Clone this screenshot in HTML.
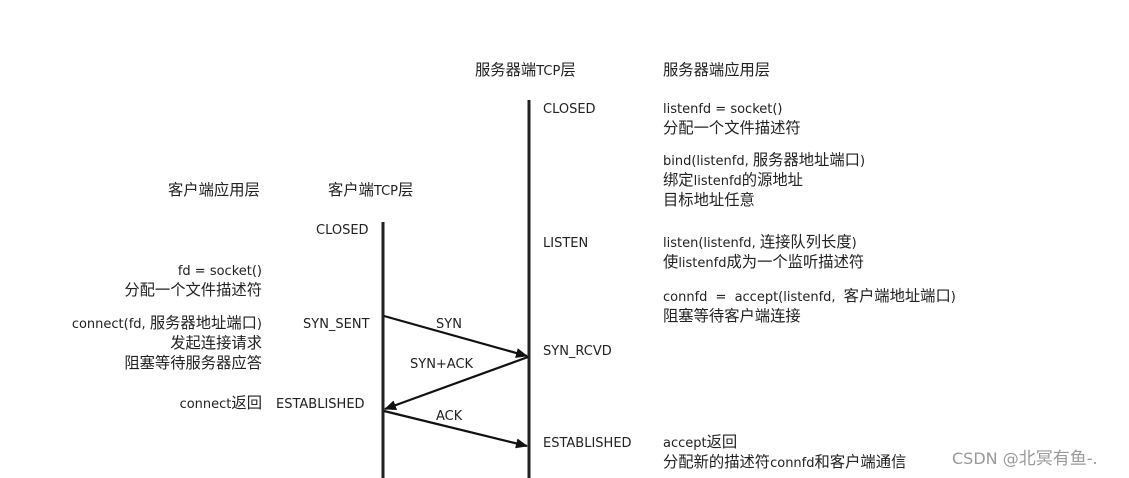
<!DOCTYPE html>
<html><head><meta charset="utf-8"><style>
body{margin:0;width:1129px;height:478px;background:#fff;position:relative;overflow:hidden;font-family:"DejaVu Sans","Noto Sans CJK SC",sans-serif;font-size:13px;color:#222}
.t{position:absolute;white-space:nowrap;line-height:20px}
.r{text-align:right}
.c{font-size:15.3px;font-family:"Noto Sans CJK SC",sans-serif;line-height:1}
</style></head><body>
<svg width="1129" height="478" style="position:absolute;left:0;top:0">
<defs><marker id="a" markerWidth="12" markerHeight="10" refX="11" refY="5" orient="auto" markerUnits="userSpaceOnUse"><path d="M0,0 L12,5 L0,10 Z" fill="#111"/></marker></defs>
<line x1="383" y1="222" x2="383" y2="478" stroke="#222" stroke-width="3"/>
<line x1="529" y1="100" x2="529" y2="478" stroke="#222" stroke-width="3"/>
<line x1="384" y1="316" x2="527" y2="356" stroke="#111" stroke-width="2.2" marker-end="url(#a)"/>
<line x1="528" y1="357" x2="385" y2="409" stroke="#111" stroke-width="2.2" marker-end="url(#a)"/>
<line x1="384" y1="411" x2="527" y2="446" stroke="#111" stroke-width="2.2" marker-end="url(#a)"/>
</svg>
<div class="t" style="left:475px;top:62px"><span class="c">服务器端</span>TCP<span class="c">层</span></div>
<div class="t" style="left:663px;top:62px"><span class="c">服务器端应用层</span></div>
<div class="t" style="left:543px;top:100px">CLOSED</div>
<div class="t" style="left:663px;top:100px">listenfd = socket()<br><span class="c">分配一个文件描述符</span></div>
<div class="t" style="left:663px;top:152px">bind(listenfd, <span class="c">服务器地址端口</span>)<br><span class="c">绑定</span>listenfd<span class="c">的源地址</span><br><span class="c">目标地址任意</span></div>
<div class="t" style="left:168px;top:182px"><span class="c">客户端应用层</span></div>
<div class="t" style="left:328px;top:182px"><span class="c">客户端</span>TCP<span class="c">层</span></div>
<div class="t" style="left:316px;top:221px">CLOSED</div>
<div class="t" style="left:543px;top:234px">LISTEN</div>
<div class="t" style="left:663px;top:234px">listen(listenfd, <span class="c">连接队列长度</span>)<br><span class="c">使</span>listenfd<span class="c">成为一个监听描述符</span></div>
<div class="t r" style="right:867px;top:262px">fd = socket()<br><span class="c">分配一个文件描述符</span></div>
<div class="t" style="left:663px;top:288px;word-spacing:4px">connfd = accept(listenfd, <span class="c">客户端地址端口</span>)<br><span class="c">阻塞等待客户端连接</span></div>
<div class="t r" style="right:867px;top:315px">connect(fd, <span class="c">服务器地址端口</span>)<br><span class="c">发起连接请求</span><br><span class="c">阻塞等待服务器应答</span></div>
<div class="t" style="left:303px;top:315px">SYN_SENT</div>
<div class="t" style="left:436px;top:315px">SYN</div>
<div class="t" style="left:543px;top:342px">SYN_RCVD</div>
<div class="t" style="left:410px;top:355px">SYN+ACK</div>
<div class="t r" style="right:867px;top:395px">connect<span class="c">返回</span></div>
<div class="t" style="left:276px;top:395px">ESTABLISHED</div>
<div class="t" style="left:436px;top:407px">ACK</div>
<div class="t" style="left:543px;top:434px">ESTABLISHED</div>
<div class="t" style="left:663px;top:434px">accept<span class="c">返回</span><br><span class="c">分配新的描述符</span>connfd<span class="c">和客户端通信</span></div>
<div class="t" style="left:952px;top:448px;font-size:16px;color:#999">CSDN @<span class="c" style="font-size:17px">北冥有鱼</span>-.</div>
</body></html>
